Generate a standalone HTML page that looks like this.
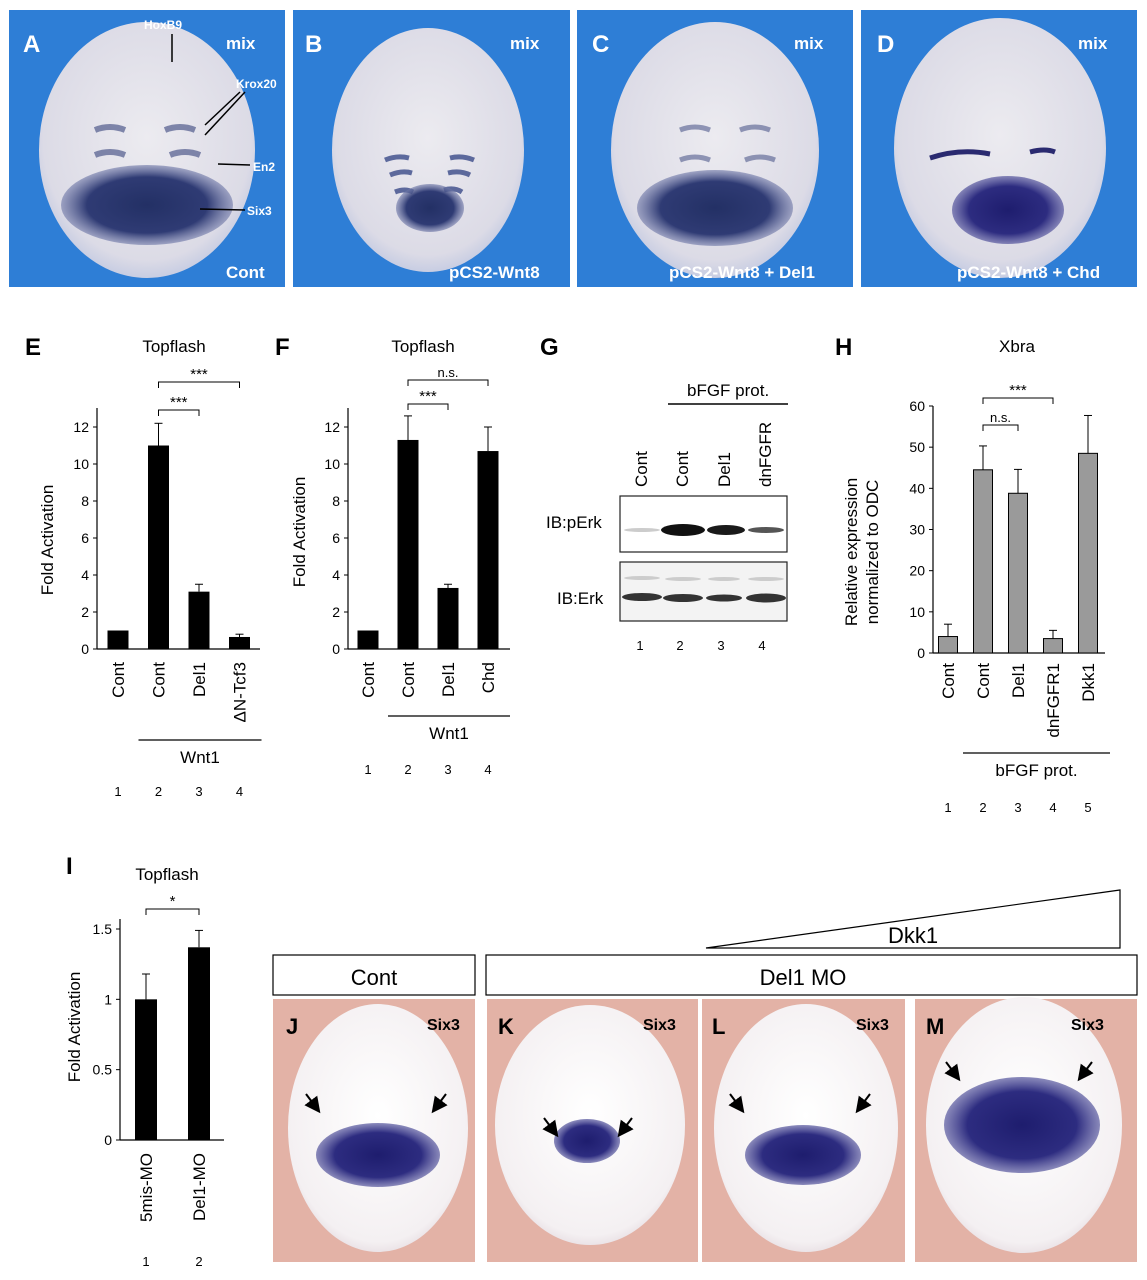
<!DOCTYPE html>
<html><head><meta charset="utf-8"><style>
html,body{margin:0;padding:0;background:#fff;}
svg{display:block;font-family:"Liberation Sans",Arial,sans-serif;}
</style></head><body>
<svg id="fig" width="1147" height="1280" viewBox="0 0 1147 1280" xmlns="http://www.w3.org/2000/svg">
<defs>
<radialGradient id="emb" cx="0.5" cy="0.45" r="0.6"><stop offset="0" stop-color="#ecebf0"/><stop offset="0.8" stop-color="#dcdbe6"/><stop offset="1" stop-color="#b9c3e0"/></radialGradient>
<radialGradient id="stain" cx="0.5" cy="0.5" r="0.5"><stop offset="0" stop-color="#233065"/><stop offset="0.7" stop-color="#2f3b74"/><stop offset="1" stop-color="#6f78a8" stop-opacity="0.6"/></radialGradient>
<radialGradient id="stain2" cx="0.5" cy="0.5" r="0.5"><stop offset="0" stop-color="#1e1d6e"/><stop offset="0.7" stop-color="#2d2c80"/><stop offset="1" stop-color="#5a5aa0" stop-opacity="0.7"/></radialGradient>
<radialGradient id="emb2" cx="0.5" cy="0.45" r="0.6"><stop offset="0" stop-color="#ffffff"/><stop offset="0.85" stop-color="#f4f0f2"/><stop offset="1" stop-color="#e0d4da"/></radialGradient>
<marker id="ah" markerWidth="8" markerHeight="8" refX="6" refY="4" orient="auto"><path d="M0,0 L8,4 L0,8 z" fill="#000"/></marker>
</defs>

<!-- Top panels A-D -->
<g>
<rect x="9" y="10" width="276" height="277" fill="#2e7ed6"/>
<ellipse cx="147" cy="150" rx="108" ry="128" fill="url(#emb)"/>
<ellipse cx="147" cy="205" rx="86" ry="40" fill="url(#stain)"/>
<path d="M95 130 q15 -6 30 0 M165 130 q15 -6 30 0 M95 155 q15 -6 30 0 M170 155 q15 -6 30 0" stroke="#505a8c" stroke-width="6" fill="none" opacity="0.7"/>
<text x="23" y="52" font-size="24" font-weight="bold" fill="#fff">A</text>
<text x="226" y="49" font-size="17" font-weight="bold" fill="#fff">mix</text>
<text x="144" y="29" font-size="12" font-weight="bold" fill="#fff">HoxB9</text>
<line x1="172" y1="34" x2="172" y2="62" stroke="#000" stroke-width="1.5"/>
<text x="236" y="88" font-size="12" font-weight="bold" fill="#fff">Krox20</text>
<line x1="240" y1="92" x2="205" y2="125" stroke="#000" stroke-width="1.5"/>
<line x1="245" y1="92" x2="205" y2="135" stroke="#000" stroke-width="1.5"/>
<text x="253" y="171" font-size="12" font-weight="bold" fill="#fff">En2</text>
<line x1="218" y1="164" x2="250" y2="165" stroke="#000" stroke-width="1.5"/>
<text x="247" y="215" font-size="12" font-weight="bold" fill="#fff">Six3</text>
<line x1="200" y1="209" x2="245" y2="210" stroke="#000" stroke-width="1.5"/>
<text x="226" y="278" font-size="17" font-weight="bold" fill="#fff">Cont</text>
</g>
<g>
<rect x="293" y="10" width="277" height="277" fill="#2e7ed6"/>
<ellipse cx="428" cy="150" rx="96" ry="122" fill="url(#emb)" />
<path d="M385 160 q12 -5 24 -2 M450 158 q12 -3 24 2 M390 175 q12 -5 22 -2 M448 173 q12 -3 22 2 M395 192 q10 -4 18 0 M444 190 q10 -3 18 2" stroke="#3a4a88" stroke-width="5" fill="none" opacity="0.8"/>
<ellipse cx="430" cy="208" rx="34" ry="24" fill="url(#stain)"/>
<text x="305" y="52" font-size="24" font-weight="bold" fill="#fff">B</text>
<text x="510" y="49" font-size="17" font-weight="bold" fill="#fff">mix</text>
<text x="449" y="278" font-size="17" font-weight="bold" fill="#fff">pCS2-Wnt8</text>
</g>
<g>
<rect x="577" y="10" width="276" height="277" fill="#2e7ed6"/>
<ellipse cx="715" cy="150" rx="104" ry="128" fill="url(#emb)"/>
<path d="M680 130 q15 -6 30 0 M740 130 q15 -6 30 0 M680 160 q15 -6 30 0 M745 160 q15 -6 30 0" stroke="#505a8c" stroke-width="5" fill="none" opacity="0.6"/>
<ellipse cx="715" cy="208" rx="78" ry="38" fill="url(#stain)"/>
<text x="592" y="52" font-size="24" font-weight="bold" fill="#fff">C</text>
<text x="794" y="49" font-size="17" font-weight="bold" fill="#fff">mix</text>
<text x="669" y="278" font-size="17" font-weight="bold" fill="#fff">pCS2-Wnt8 + Del1</text>
</g>
<g>
<rect x="861" y="10" width="276" height="277" fill="#2e7ed6"/>
<ellipse cx="1000" cy="148" rx="106" ry="130" fill="url(#emb)"/>
<ellipse cx="1008" cy="210" rx="56" ry="34" fill="url(#stain2)"/>
<path d="M930 158 q30 -10 60 -4 M1030 152 q15 -4 25 0" stroke="#2a2a70" stroke-width="5" fill="none"/>
<text x="877" y="52" font-size="24" font-weight="bold" fill="#fff">D</text>
<text x="1078" y="49" font-size="17" font-weight="bold" fill="#fff">mix</text>
<text x="957" y="278" font-size="17" font-weight="bold" fill="#fff">pCS2-Wnt8 + Chd</text>
</g>

<g id="charts"></g>

<!-- Panel G blot -->
<g>
<text x="540" y="355" font-size="24" font-weight="bold">G</text>
<text x="687" y="396" font-size="17">bFGF prot.</text>
<line x1="668" y1="404" x2="788" y2="404" stroke="#000" stroke-width="1.5"/>
<g font-size="17">
<text transform="translate(647,487) rotate(-90)">Cont</text>
<text transform="translate(688,487) rotate(-90)">Cont</text>
<text transform="translate(730,487) rotate(-90)">Del1</text>
<text transform="translate(771,487) rotate(-90)">dnFGFR</text>
</g>
<rect x="620" y="496" width="167" height="56" fill="#fff" stroke="#222" stroke-width="1.2"/>
<rect x="620" y="562" width="167" height="59" fill="#f3f3f3" stroke="#222" stroke-width="1.2"/>
<text x="546" y="528" font-size="17">IB:pErk</text>
<text x="557" y="604" font-size="17">IB:Erk</text>
<ellipse cx="642" cy="530" rx="18" ry="2" fill="#ccc"/>
<ellipse cx="683" cy="530" rx="22" ry="6" fill="#111"/>
<ellipse cx="726" cy="530" rx="19" ry="5" fill="#1a1a1a"/>
<ellipse cx="766" cy="530" rx="18" ry="3" fill="#555"/>
<g fill="#333"><ellipse cx="642" cy="597" rx="20" ry="4"/><ellipse cx="683" cy="598" rx="20" ry="4"/><ellipse cx="724" cy="598" rx="18" ry="3.5"/><ellipse cx="766" cy="598" rx="20" ry="4.5"/></g>
<g fill="#ccc"><ellipse cx="642" cy="578" rx="18" ry="2"/><ellipse cx="683" cy="579" rx="18" ry="2"/><ellipse cx="724" cy="579" rx="16" ry="2"/><ellipse cx="766" cy="579" rx="18" ry="2"/></g>
<g font-size="13" text-anchor="middle"><text x="640" y="650">1</text><text x="680" y="650">2</text><text x="721" y="650">3</text><text x="762" y="650">4</text></g>
</g>

<!-- Bottom panels J-M -->
<g>
<polygon points="706,948 1120,890 1120,948" fill="#fff" stroke="#000" stroke-width="1.2"/>
<text x="888" y="943" font-size="22">Dkk1</text>
<rect x="273" y="955" width="202" height="40" fill="#fff" stroke="#000" stroke-width="1.2"/>
<text x="374" y="985" font-size="22" text-anchor="middle">Cont</text>
<rect x="486" y="955" width="651" height="40" fill="#fff" stroke="#000" stroke-width="1.2"/>
<text x="803" y="985" font-size="22" text-anchor="middle">Del1 MO</text>

<rect x="273" y="999" width="202" height="263" fill="#e3b2a6"/>
<ellipse cx="378" cy="1128" rx="90" ry="124" fill="url(#emb2)"/>
<ellipse cx="378" cy="1155" rx="62" ry="32" fill="url(#stain2)"/>
<text x="286" y="1034" font-size="22" font-weight="bold">J</text>
<text x="427" y="1030" font-size="16" font-weight="bold">Six3</text>
<line x1="306" y1="1094" x2="318" y2="1110" stroke="#000" stroke-width="2" marker-end="url(#ah)"/><line x1="446" y1="1094" x2="434" y2="1110" stroke="#000" stroke-width="2" marker-end="url(#ah)"/>

<rect x="487" y="999" width="211" height="263" fill="#e3b2a6"/>
<ellipse cx="590" cy="1125" rx="95" ry="120" fill="url(#emb2)"/>
<ellipse cx="587" cy="1141" rx="33" ry="22" fill="url(#stain2)"/>
<text x="498" y="1034" font-size="22" font-weight="bold">K</text>
<text x="643" y="1030" font-size="16" font-weight="bold">Six3</text>
<line x1="544" y1="1118" x2="556" y2="1134" stroke="#000" stroke-width="2" marker-end="url(#ah)"/><line x1="632" y1="1118" x2="620" y2="1134" stroke="#000" stroke-width="2" marker-end="url(#ah)"/>

<rect x="702" y="999" width="203" height="263" fill="#e3b2a6"/>
<ellipse cx="806" cy="1128" rx="92" ry="124" fill="url(#emb2)"/>
<ellipse cx="803" cy="1155" rx="58" ry="30" fill="url(#stain2)"/>
<text x="712" y="1034" font-size="22" font-weight="bold">L</text>
<text x="856" y="1030" font-size="16" font-weight="bold">Six3</text>
<line x1="730" y1="1094" x2="742" y2="1110" stroke="#000" stroke-width="2" marker-end="url(#ah)"/><line x1="870" y1="1094" x2="858" y2="1110" stroke="#000" stroke-width="2" marker-end="url(#ah)"/>

<rect x="915" y="999" width="222" height="263" fill="#e3b2a6"/>
<ellipse cx="1024" cy="1125" rx="98" ry="128" fill="url(#emb2)"/>
<ellipse cx="1022" cy="1125" rx="78" ry="48" fill="url(#stain2)"/>
<text x="926" y="1034" font-size="22" font-weight="bold">M</text>
<text x="1071" y="1030" font-size="16" font-weight="bold">Six3</text>
<line x1="946" y1="1062" x2="958" y2="1078" stroke="#000" stroke-width="2" marker-end="url(#ah)"/><line x1="1092" y1="1062" x2="1080" y2="1078" stroke="#000" stroke-width="2" marker-end="url(#ah)"/>
</g>
</svg>
<script>
const eCats=["Cont","Cont","Del1","\u0394N-Tcf3"];
const eVals=[1,11,3.1,0.65];
const eErr=[0,1.2,0.4,0.15];
const eTicks=[0,2,4,6,8,10,12];
const fCats=["Cont","Cont","Del1","Chd"];
const fVals=[1,11.3,3.3,10.7];
const fErr=[0,1.3,0.2,1.3];
const fTicks=[0,2,4,6,8,10,12];
const hCats=["Cont","Cont","Del1","dnFGFR1","Dkk1"];
const hVals=[4,44.5,38.8,3.5,48.5];
const hErr=[3,5.8,5.8,2,9.2];
const hTicks=[0,10,20,30,40,50,60];
const iCats=["5mis-MO","Del1-MO"];
const iVals=[1,1.37];
const iErr=[0.18,0.12];
const iTicks=[0,0.5,1,1.5];
const iTickLabels=["0","0.5","1","1.5"];

const NS="http://www.w3.org/2000/svg";
const root=document.getElementById('charts');
function mk(tag,attrs,parent,txt){const e=document.createElementNS(NS,tag);for(const k in attrs)e.setAttribute(k,attrs[k]);if(txt!==undefined)e.textContent=txt;(parent||root).appendChild(e);return e;}

function chart(o){
  const g=mk('g',{});
  
  
  const y=v=>o.y0-(v/o.max)*(o.y0-o.yTop);
  mk('line',{x1:o.ax,y1:o.axTop,x2:o.ax,y2:o.y0,stroke:'#000','stroke-width':1.2},g);
  mk('line',{x1:o.ax,y1:o.y0,x2:o.axEnd,y2:o.y0,stroke:'#000','stroke-width':1.2},g);
  o.ticks.forEach((t,i)=>{
    const ty=y(t);
    const tl=mk('line',{x1:o.ax-4,y1:ty,x2:o.ax,y2:ty,stroke:'#000'},g);
    
    
    const lb=mk('text',{x:o.ax-8,y:ty+5,'font-size':14,'text-anchor':'end'},g,o.tickLabels?o.tickLabels[i]:String(t));
    
    
  });
  o.vals.forEach((v,i)=>{
    const cx=o.x0+i*o.step;
    const b=mk('rect',{x:cx-o.bw/2,y:y(v),width:o.bw,height:o.y0-y(v),fill:o.fill,stroke:'#000','stroke-width':o.fill==='#000'?0:1},g);
    
    
    if(o.err[i]>0){
      mk('line',{x1:cx,y1:y(v),x2:cx,y2:y(v+o.err[i]),stroke:'#000'},g);
      mk('line',{x1:cx-4,y1:y(v+o.err[i]),x2:cx+4,y2:y(v+o.err[i]),stroke:'#000'},g);
    }
    const t=mk('text',{transform:`translate(${cx+6},${o.catY}) rotate(-90)`,'font-size':17,'text-anchor':'end'},g,o.cats[i]);
    
    
    const n=mk('text',{x:cx,y:o.numY,'font-size':13,'text-anchor':'middle'},g,String(i+1));
    
    
  });
  const yt=mk('text',{transform:`translate(${o.ytx},${o.yty}) rotate(-90)`,'font-size':17,'text-anchor':'middle'},g,o.ytitle);
  
  
  if(o.ytitle2) mk('text',{transform:`translate(${o.ytx+21},${o.yty}) rotate(-90)`,'font-size':17,'text-anchor':'middle'},g,o.ytitle2);
  mk('text',{x:o.titleX,y:o.titleY,'font-size':17,'text-anchor':'middle'},g,o.title);
  mk('text',{x:o.letterX,y:o.letterY,'font-size':24,'font-weight':'bold'},g,o.letter);
  (o.brackets||[]).forEach(br=>{
    const x1=o.x0+br[0]*o.step,x2=o.x0+br[1]*o.step;
    mk('path',{d:`M${x1} ${br[2]+6} V${br[2]} H${x2} V${br[2]+6}`,stroke:'#000',fill:'none'},g);
    mk('text',{x:(x1+x2)/2,y:br[2]-3,'font-size':br[3]==='n.s.'?13:15,'text-anchor':'middle'},g,br[3]);
  });
  if(o.group){
    const gx1=o.x0+o.group[0]*o.step-20,gx2=o.x0+o.group[1]*o.step+22;
    mk('line',{x1:gx1,y1:o.group[2],x2:gx2,y2:o.group[2],stroke:'#000','stroke-width':1.2},g);
    mk('text',{x:(gx1+gx2)/2,y:o.group[2]+23,'font-size':17,'text-anchor':'middle'},g,o.group[3]);
  }
}
chart({name:'panel-e-chart',cats:eCats,vals:eVals,err:eErr,ticks:eTicks,max:12,ax:97,axTop:408,axEnd:260,y0:649,yTop:427,x0:118,step:40.5,bw:21,fill:'#000',catY:662,numY:796,ytitle:'Fold Activation',ytx:53,yty:540,title:'Topflash',titleX:174,titleY:352,letter:'E',letterX:25,letterY:355,brackets:[[1,2,410,'***'],[1,3,382,'***']],group:[1,3,740,'Wnt1']});
chart({name:'panel-f-chart',cats:fCats,vals:fVals,err:fErr,ticks:fTicks,max:12,ax:348,axTop:408,axEnd:510,y0:649,yTop:427,x0:368,step:40,bw:21,fill:'#000',catY:662,numY:774,ytitle:'Fold Activation',ytx:305,yty:532,title:'Topflash',titleX:423,titleY:352,letter:'F',letterX:275,letterY:355,brackets:[[1,2,404,'***'],[1,3,380,'n.s.']],group:[1,3,716,'Wnt1']});
chart({name:'panel-h-chart',cats:hCats,vals:hVals,err:hErr,ticks:hTicks,max:60,ax:933,axTop:406,axEnd:1105,y0:653,yTop:406,x0:948,step:35,bw:19,fill:'#9a9a9a',catY:663,numY:812,ytitle:'Relative expression',ytitle2:'normalized to ODC',ytx:857,yty:552,title:'Xbra',titleX:1017,titleY:352,letter:'H',letterX:835,letterY:355,brackets:[[1,2,425,'n.s.'],[1,3,398,'***']],group:[1,4,753,'bFGF prot.']});
chart({name:'panel-i-chart',cats:iCats,vals:iVals,err:iErr,ticks:iTicks,tickLabels:iTickLabels,max:1.5,ax:120,axTop:919,axEnd:224,y0:1140,yTop:929,x0:146,step:53,bw:22,fill:'#000',catY:1153,numY:1266,ytitle:'Fold Activation',ytx:80,yty:1027,title:'Topflash',titleX:167,titleY:880,letter:'I',letterX:66,letterY:874,brackets:[[0,1,909,'*']]});
</script>
</body></html>
